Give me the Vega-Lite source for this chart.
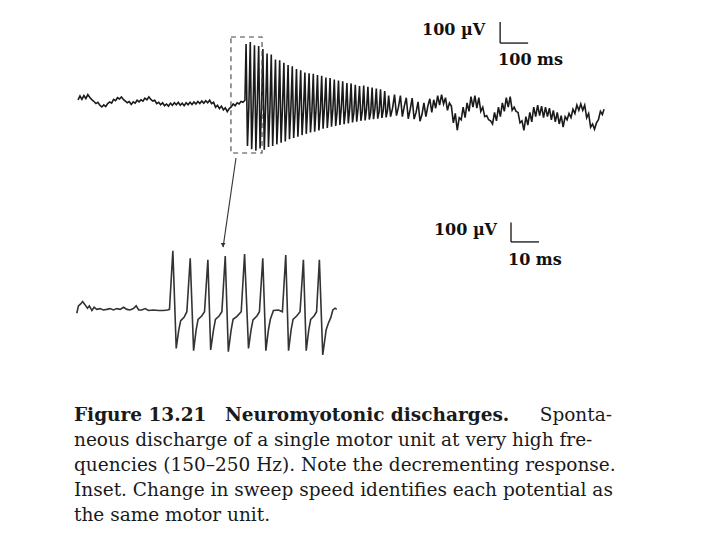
{
  "$schema": "https://vega.github.io/schema/vega-lite/v6.json",
  "width": 720,
  "height": 540,
  "autosize": {"type": "fit", "contains": "padding"},
  "padding": 0,
  "background": "#ffffff",
  "config": {"view": {"stroke": null}},
  "datasets": {
    "top": [
      {"t":0,"v":20},{"t":7,"v":38},{"t":14,"v":22},{"t":21,"v":40},{"t":28,"v":26},{"t":35,"v":45},{"t":43,"v":30},{"t":50,"v":20},{"t":57,"v":12},{"t":64,"v":2},{"t":71,"v":8},{"t":78,"v":-6},{"t":85,"v":-14},{"t":92,"v":-4},{"t":99,"v":-12},{"t":106,"v":2},{"t":113,"v":10},{"t":120,"v":4},{"t":127,"v":22},{"t":134,"v":16},{"t":141,"v":30},{"t":148,"v":24},{"t":155,"v":34},{"t":162,"v":22},{"t":169,"v":14},{"t":176,"v":6},{"t":183,"v":12},{"t":190,"v":-2},{"t":197,"v":10},{"t":204,"v":4},{"t":211,"v":18},{"t":218,"v":10},{"t":225,"v":20},{"t":232,"v":14},{"t":239,"v":28},{"t":246,"v":20},{"t":253,"v":34},{"t":260,"v":22},{"t":267,"v":14},{"t":274,"v":18},{"t":281,"v":2},{"t":288,"v":8},{"t":295,"v":-4},{"t":302,"v":6},{"t":309,"v":-8},{"t":316,"v":0},{"t":323,"v":-10},{"t":330,"v":4},{"t":337,"v":-6},{"t":344,"v":6},{"t":351,"v":-4},{"t":358,"v":8},{"t":365,"v":-6},{"t":372,"v":4},{"t":379,"v":-8},{"t":386,"v":6},{"t":393,"v":-4},{"t":400,"v":8},{"t":407,"v":-2},{"t":414,"v":10},{"t":421,"v":0},{"t":428,"v":12},{"t":435,"v":2},{"t":442,"v":14},{"t":449,"v":4},{"t":456,"v":16},{"t":463,"v":6},{"t":470,"v":18},{"t":477,"v":2},{"t":484,"v":8},{"t":491,"v":-16},{"t":498,"v":-6},{"t":505,"v":-22},{"t":512,"v":-10},{"t":519,"v":-28},{"t":526,"v":-18},{"t":533,"v":-36},{"t":540,"v":-22},{"t":547,"v":-14},{"t":554,"v":0},{"t":561,"v":-8},{"t":568,"v":6},{"t":575,"v":0},{"t":582,"v":12},{"t":589,"v":8},{"t":596,"v":18},
      {"t":600,"v":285},{"t":605,"v":-200},{"t":610,"v":-10},
      {"t":615,"v":295},{"t":620,"v":-215},{"t":625,"v":-20},
      {"t":630,"v":280},{"t":635,"v":-222},{"t":640,"v":0},
      {"t":645,"v":276},{"t":650,"v":-212},{"t":655,"v":-25},
      {"t":660,"v":262},{"t":665,"v":-218},{"t":670,"v":-5},
      {"t":675,"v":240},{"t":680,"v":-205},{"t":685,"v":-30},
      {"t":690,"v":235},{"t":695,"v":-200},{"t":700,"v":-10},
      {"t":705,"v":212},{"t":710,"v":-192},{"t":715,"v":-35},
      {"t":720,"v":208},{"t":725,"v":-184},{"t":730,"v":-15},
      {"t":735,"v":196},{"t":740,"v":-178},{"t":745,"v":-30},
      {"t":750,"v":186},{"t":755,"v":-168},{"t":760,"v":-20},
      {"t":765,"v":180},{"t":770,"v":-162},{"t":775,"v":-38},
      {"t":780,"v":166},{"t":785,"v":-156},{"t":790,"v":-18},
      {"t":795,"v":160},{"t":800,"v":-148},{"t":805,"v":-30},
      {"t":810,"v":150},{"t":815,"v":-142},{"t":820,"v":-12},
      {"t":825,"v":146},{"t":830,"v":-135},{"t":835,"v":-34},
      {"t":840,"v":144},{"t":845,"v":-132},{"t":850,"v":-20},
      {"t":855,"v":138},{"t":860,"v":-126},{"t":865,"v":-36},
      {"t":870,"v":134},{"t":875,"v":-118},{"t":880,"v":-16},
      {"t":885,"v":126},{"t":890,"v":-114},{"t":895,"v":-30},
      {"t":900,"v":124},{"t":905,"v":-108},{"t":910,"v":-22},
      {"t":915,"v":116},{"t":920,"v":-104},{"t":925,"v":-38},
      {"t":930,"v":112},{"t":935,"v":-100},{"t":940,"v":-18},
      {"t":945,"v":108},{"t":950,"v":-96},{"t":955,"v":-32},
      {"t":960,"v":100},{"t":965,"v":-92},{"t":970,"v":-24},
      {"t":975,"v":98},{"t":980,"v":-88},{"t":985,"v":-40},
      {"t":990,"v":92},{"t":995,"v":-84},{"t":1000,"v":-20},
      {"t":1005,"v":86},{"t":1010,"v":-80},{"t":1015,"v":-34},
      {"t":1020,"v":88},{"t":1025,"v":-78},{"t":1030,"v":-26},
      {"t":1035,"v":82},{"t":1040,"v":-74},{"t":1045,"v":-40},
      {"t":1050,"v":78},{"t":1055,"v":-72},{"t":1060,"v":-22},
      {"t":1065,"v":74},{"t":1070,"v":-70},{"t":1075,"v":-36},
      {"t":1080,"v":70},{"t":1085,"v":-66},{"t":1090,"v":-28},
      {"t":1095,"v":62},{"t":1100,"v":-64},{"t":1105,"v":-30},
      {"t":1109,"v":40},{"t":1116,"v":-60},{"t":1123,"v":-20},{"t":1130,"v":45},{"t":1137,"v":-55},{"t":1144,"v":-15},{"t":1151,"v":40},{"t":1158,"v":-60},{"t":1165,"v":-10},{"t":1172,"v":30},{"t":1179,"v":-70},{"t":1186,"v":-25},{"t":1193,"v":28},{"t":1200,"v":-72},{"t":1207,"v":-40},{"t":1214,"v":10},{"t":1221,"v":-82},{"t":1228,"v":-50},{"t":1235,"v":5},{"t":1242,"v":-60},{"t":1249,"v":-10},{"t":1256,"v":25},{"t":1263,"v":-40},{"t":1270,"v":20},{"t":1277,"v":-20},{"t":1284,"v":40},{"t":1291,"v":-5},{"t":1298,"v":45},{"t":1305,"v":0},{"t":1312,"v":30},{"t":1319,"v":-30},{"t":1326,"v":5},
      {"t":1333,"v":-10},{"t":1340,"v":-90},{"t":1347,"v":-45},{"t":1354,"v":-125},{"t":1361,"v":-65},{"t":1368,"v":-75},{"t":1375,"v":-15},{"t":1382,"v":-65},{"t":1389,"v":5},{"t":1396,"v":-35},{"t":1403,"v":35},{"t":1410,"v":-15},{"t":1417,"v":40},{"t":1424,"v":-20},{"t":1431,"v":30},{"t":1438,"v":-35},{"t":1445,"v":-15},{"t":1452,"v":-60},{"t":1459,"v":-55},{"t":1466,"v":-75},{"t":1473,"v":-80},{"t":1480,"v":-95},{"t":1487,"v":-40},{"t":1494,"v":-80},{"t":1501,"v":-15},{"t":1508,"v":-60},{"t":1515,"v":5},{"t":1522,"v":-35},{"t":1529,"v":30},{"t":1536,"v":-15},{"t":1543,"v":35},{"t":1550,"v":-30},{"t":1557,"v":-15},{"t":1564,"v":-35},{"t":1571,"v":-40},{"t":1578,"v":-90},{"t":1585,"v":-80},{"t":1592,"v":-125},{"t":1599,"v":-60},{"t":1606,"v":-100},{"t":1613,"v":-40},{"t":1620,"v":-85},{"t":1627,"v":-15},{"t":1634,"v":-60},{"t":1641,"v":-5},{"t":1648,"v":-55},{"t":1655,"v":-10},{"t":1662,"v":-65},{"t":1669,"v":-15},{"t":1676,"v":-60},{"t":1683,"v":-20},{"t":1690,"v":-75},{"t":1697,"v":-30},{"t":1704,"v":-85},{"t":1711,"v":-40},{"t":1718,"v":-95},{"t":1725,"v":-55},{"t":1732,"v":-110},{"t":1739,"v":-60},{"t":1746,"v":-75},{"t":1753,"v":-45},{"t":1760,"v":-65},{"t":1767,"v":-25},{"t":1774,"v":-45},{"t":1781,"v":-5},{"t":1788,"v":-30},{"t":1795,"v":0},{"t":1802,"v":-30},{"t":1809,"v":-5},{"t":1816,"v":-65},{"t":1823,"v":-45},{"t":1830,"v":-110},{"t":1837,"v":-95},{"t":1844,"v":-120},{"t":1851,"v":-90},{"t":1858,"v":-75},{"t":1865,"v":-35},{"t":1872,"v":-50},{"t":1878,"v":-25}
    ],
    "inset": [
      {"t":0,"v":-17},{"t":0.6,"v":21},{"t":1.4,"v":31},{"t":2.1,"v":43},{"t":3.0,"v":26},{"t":3.8,"v":9},{"t":4.5,"v":21},{"t":5.4,"v":-3},{"t":6.2,"v":14},{"t":7.1,"v":3},{"t":8.3,"v":7},{"t":9.5,"v":0},{"t":10.7,"v":3},{"t":11.9,"v":7},{"t":13.1,"v":0},{"t":14.3,"v":7},{"t":15.5,"v":3},{"t":16.7,"v":14},{"t":17.9,"v":3},{"t":19.0,"v":0},{"t":20.2,"v":7},{"t":21.2,"v":21},{"t":22.1,"v":0},{"t":23.2,"v":0},{"t":24.4,"v":7},{"t":25.6,"v":-3},{"t":27.4,"v":0},{"t":29.2,"v":-3},{"t":30.9,"v":-3},{"t":32.4,"v":0},{"t":33.1,"v":3},
      {"t":34.3,"v":304},{"t":35.5,"v":-197},{"t":36.4,"v":-103},{"t":37.1,"v":-55},{"t":38.3,"v":-38},{"t":39.3,"v":-9},
      {"t":40.5,"v":265},{"t":41.7,"v":-209},{"t":42.6,"v":-103},{"t":43.3,"v":-48},{"t":44.6,"v":-31},{"t":45.6,"v":-9},
      {"t":46.8,"v":257},{"t":47.8,"v":-205},{"t":48.8,"v":-103},{"t":49.5,"v":-48},{"t":50.8,"v":-31},{"t":51.8,"v":-9},
      {"t":53.0,"v":277},{"t":54.1,"v":-214},{"t":55.1,"v":-103},{"t":55.8,"v":-48},{"t":57.1,"v":-34},{"t":58.7,"v":-9},
      {"t":59.9,"v":287},{"t":61.3,"v":-197},{"t":62.2,"v":-103},{"t":62.9,"v":-51},{"t":64.3,"v":-31},{"t":65.2,"v":-9},
      {"t":66.4,"v":265},{"t":67.5,"v":-209},{"t":68.4,"v":-103},{"t":69.1,"v":-48},{"t":70.2,"v":-3},{"t":72.0,"v":0},{"t":73.4,"v":-9},
      {"t":74.6,"v":282},{"t":75.6,"v":-209},{"t":76.5,"v":-103},{"t":77.2,"v":-48},{"t":78.5,"v":-31},{"t":79.7,"v":-9},
      {"t":80.9,"v":257},{"t":81.9,"v":-209},{"t":82.8,"v":-103},{"t":83.5,"v":-48},{"t":84.7,"v":-31},{"t":85.6,"v":-9},
      {"t":86.6,"v":257},{"t":87.8,"v":-231},{"t":89.0,"v":-103},{"t":89.8,"v":-68},{"t":90.7,"v":-38},{"t":91.4,"v":0},{"t":92.2,"v":9},{"t":92.8,"v":3}
    ]
  },
  "resolve": {"scale": {"x": "independent", "y": "independent"}},
  "layer": [
    {
      "layer": [
        {
          "mark": {"type": "rect", "color": "#f8f8f8"},
          "encoding": {
            "x": {"datum": -0.022, "type": "quantitative", "scale": {"domain": [-0.1375, 1.2007], "nice": false, "zero": false}, "axis": null},
            "x2": {"datum": 1.011}
          }
        },
        {
          "data": {"values": [{"line": 0, "pos": 0, "text": "Figure 13.21\u2003Neuromyotonic discharges."}]},
          "mark": {"type": "text", "font": "DejaVu Serif", "fontSize": 18.5, "fontWeight": "bold", "align": "left", "baseline": "alphabetic", "color": "#1a1a1a"},
          "encoding": {
            "x": {"field": "pos", "type": "quantitative", "scale": {"domain": [-0.1375, 1.2007], "nice": false, "zero": false}, "axis": null},
            "y": {"field": "line", "type": "quantitative", "scale": {"domain": [-16.84, 4.76], "reverse": true, "nice": false, "zero": false}, "axis": null},
            "text": {"field": "text"}
          }
        },
        {
          "data": {"values": [{"line": 0, "pos": 1, "text": "Sponta-"}]},
          "mark": {"type": "text", "font": "DejaVu Serif", "fontSize": 18.5, "align": "right", "baseline": "alphabetic", "color": "#1a1a1a"},
          "encoding": {
            "x": {"field": "pos", "type": "quantitative", "scale": {"domain": [-0.1375, 1.2007], "nice": false, "zero": false}, "axis": null},
            "y": {"field": "line", "type": "quantitative", "scale": {"domain": [-16.84, 4.76], "reverse": true, "nice": false, "zero": false}, "axis": null},
            "text": {"field": "text"}
          }
        },
        {
          "data": {"values": [
            {"line": 1, "pos": 0, "text": "neous discharge of a single motor unit at very high fre-"},
            {"line": 2, "pos": 0, "text": "quencies (150–250 Hz). Note the decrementing response."},
            {"line": 3, "pos": 0, "text": "Inset. Change in sweep speed identifies each potential as"},
            {"line": 4, "pos": 0, "text": "the same motor unit."}
          ]},
          "mark": {"type": "text", "font": "DejaVu Serif", "fontSize": 18.5, "align": "left", "baseline": "alphabetic", "color": "#1a1a1a"},
          "encoding": {
            "x": {"field": "pos", "type": "quantitative", "scale": {"domain": [-0.1375, 1.2007], "nice": false, "zero": false}, "axis": null},
            "y": {"field": "line", "type": "quantitative", "scale": {"domain": [-16.84, 4.76], "reverse": true, "nice": false, "zero": false}, "axis": null},
            "text": {"field": "text"}
          }
        }
      ]
    },
    {
      "layer": [
        {
          "data": {"name": "top"},
          "mark": {"type": "line", "color": "#1a1a1a", "strokeWidth": 1.6},
          "encoding": {
            "x": {"field": "t", "type": "quantitative", "scale": {"domain": [-278.5, 2292], "nice": false, "zero": false}, "axis": null},
            "y": {"field": "v", "type": "quantitative", "scale": {"domain": [-2075, 495], "nice": false, "zero": false}, "axis": null}
          }
        },
        {
          "data": {"values": [{"t": 546, "t2": 657, "v": 319, "v2": -233}]},
          "mark": {"type": "rect", "fillOpacity": 0, "stroke": "#444444", "strokeWidth": 1.1, "strokeDash": [5, 4]},
          "encoding": {
            "x": {"field": "t", "type": "quantitative", "scale": {"domain": [-278.5, 2292], "nice": false, "zero": false}, "axis": null},
            "x2": {"field": "t2"},
            "y": {"field": "v", "type": "quantitative", "scale": {"domain": [-2075, 495], "nice": false, "zero": false}, "axis": null},
            "y2": {"field": "v2"}
          }
        },
        {
          "data": {"values": [{"t": 564, "t2": 518, "v": -257, "v2": -681}]},
          "mark": {"type": "rule", "color": "#333333", "strokeWidth": 1.1},
          "encoding": {
            "x": {"field": "t", "type": "quantitative", "scale": {"domain": [-278.5, 2292], "nice": false, "zero": false}, "axis": null},
            "x2": {"field": "t2"},
            "y": {"field": "v", "type": "quantitative", "scale": {"domain": [-2075, 495], "nice": false, "zero": false}, "axis": null},
            "y2": {"field": "v2"}
          }
        },
        {
          "data": {"values": [{"t": 518, "v": -681}]},
          "mark": {"type": "point", "shape": "triangle-down", "filled": true, "size": 22, "color": "#333333", "opacity": 1, "yOffset": -2},
          "encoding": {
            "x": {"field": "t", "type": "quantitative", "scale": {"domain": [-278.5, 2292], "nice": false, "zero": false}, "axis": null},
            "y": {"field": "v", "type": "quantitative", "scale": {"domain": [-2075, 495], "nice": false, "zero": false}, "axis": null}
          }
        },
        {
          "data": {"values": [{"t": 1507, "t2": 1607, "v": 290, "v2": 390}]},
          "layer": [
            {
              "mark": {"type": "rule", "color": "#111111", "strokeWidth": 1.3},
              "encoding": {
                "x": {"field": "t", "type": "quantitative", "scale": {"domain": [-278.5, 2292], "nice": false, "zero": false}, "axis": null},
                "y": {"field": "v", "type": "quantitative", "scale": {"domain": [-2075, 495], "nice": false, "zero": false}, "axis": null},
                "y2": {"field": "v2"}
              }
            },
            {
              "mark": {"type": "rule", "color": "#111111", "strokeWidth": 1.3},
              "encoding": {
                "x": {"field": "t", "type": "quantitative", "scale": {"domain": [-278.5, 2292], "nice": false, "zero": false}, "axis": null},
                "x2": {"field": "t2"},
                "y": {"field": "v", "type": "quantitative", "scale": {"domain": [-2075, 495], "nice": false, "zero": false}, "axis": null}
              }
            },
            {
              "mark": {"type": "text", "font": "DejaVu Serif", "fontSize": 16, "fontWeight": "bold", "align": "right", "baseline": "alphabetic", "dx": -15, "dy": -8, "color": "#111111"},
              "encoding": {
                "x": {"field": "t", "type": "quantitative", "scale": {"domain": [-278.5, 2292], "nice": false, "zero": false}, "axis": null},
                "y": {"field": "v", "type": "quantitative", "scale": {"domain": [-2075, 495], "nice": false, "zero": false}, "axis": null},
                "text": {"value": "100 µV"}
              }
            },
            {
              "mark": {"type": "text", "font": "DejaVu Serif", "fontSize": 16, "fontWeight": "bold", "align": "left", "baseline": "alphabetic", "dx": -2, "dy": 22, "color": "#111111"},
              "encoding": {
                "x": {"field": "t", "type": "quantitative", "scale": {"domain": [-278.5, 2292], "nice": false, "zero": false}, "axis": null},
                "y": {"field": "v", "type": "quantitative", "scale": {"domain": [-2075, 495], "nice": false, "zero": false}, "axis": null},
                "text": {"value": "100 ms"}
              }
            }
          ]
        }
      ]
    },
    {
      "layer": [
        {
          "data": {"name": "inset"},
          "mark": {"type": "line", "color": "#333333", "strokeWidth": 1.6},
          "encoding": {
            "x": {"field": "t", "type": "quantitative", "scale": {"domain": [-27.4, 229.6], "nice": false, "zero": false}, "axis": null},
            "y": {"field": "v", "type": "quantitative", "scale": {"domain": [-1180, 1590], "nice": false, "zero": false}, "axis": null}
          }
        },
        {
          "data": {"values": [{"t": 155, "t2": 165, "v": 349, "v2": 449}]},
          "layer": [
            {
              "mark": {"type": "rule", "color": "#111111", "strokeWidth": 1.3},
              "encoding": {
                "x": {"field": "t", "type": "quantitative", "scale": {"domain": [-27.4, 229.6], "nice": false, "zero": false}, "axis": null},
                "y": {"field": "v", "type": "quantitative", "scale": {"domain": [-1180, 1590], "nice": false, "zero": false}, "axis": null},
                "y2": {"field": "v2"}
              }
            },
            {
              "mark": {"type": "rule", "color": "#111111", "strokeWidth": 1.3},
              "encoding": {
                "x": {"field": "t", "type": "quantitative", "scale": {"domain": [-27.4, 229.6], "nice": false, "zero": false}, "axis": null},
                "x2": {"field": "t2"},
                "y": {"field": "v", "type": "quantitative", "scale": {"domain": [-1180, 1590], "nice": false, "zero": false}, "axis": null}
              }
            },
            {
              "mark": {"type": "text", "font": "DejaVu Serif", "fontSize": 16, "fontWeight": "bold", "align": "right", "baseline": "alphabetic", "dx": -14, "dy": -7, "color": "#111111"},
              "encoding": {
                "x": {"field": "t", "type": "quantitative", "scale": {"domain": [-27.4, 229.6], "nice": false, "zero": false}, "axis": null},
                "y": {"field": "v", "type": "quantitative", "scale": {"domain": [-1180, 1590], "nice": false, "zero": false}, "axis": null},
                "text": {"value": "100 µV"}
              }
            },
            {
              "mark": {"type": "text", "font": "DejaVu Serif", "fontSize": 16, "fontWeight": "bold", "align": "left", "baseline": "alphabetic", "dx": -3, "dy": 23, "color": "#111111"},
              "encoding": {
                "x": {"field": "t", "type": "quantitative", "scale": {"domain": [-27.4, 229.6], "nice": false, "zero": false}, "axis": null},
                "y": {"field": "v", "type": "quantitative", "scale": {"domain": [-1180, 1590], "nice": false, "zero": false}, "axis": null},
                "text": {"value": "10 ms"}
              }
            }
          ]
        }
      ]
    }
  ]
}
